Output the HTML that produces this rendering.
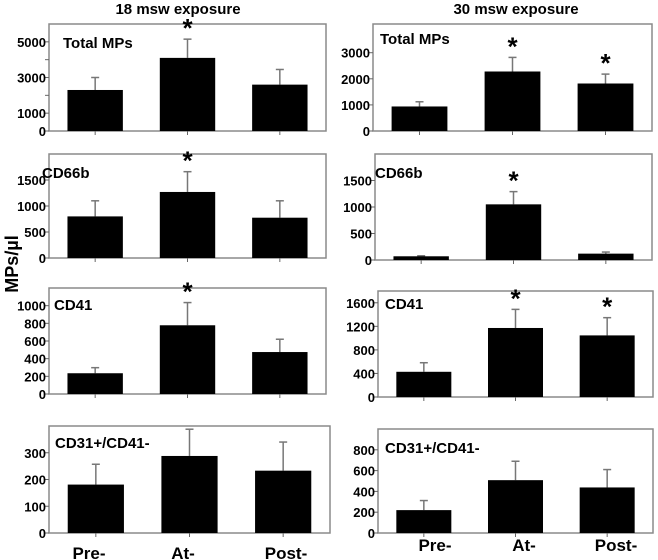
<!DOCTYPE html>
<html><head><meta charset="utf-8"><style>
html,body{margin:0;padding:0;background:#fff;}
svg{display:block;font-family:"Liberation Sans",Arial,sans-serif;font-weight:bold;}
</style></head><body>
<svg id="chart" width="658" height="560" viewBox="0 0 658 560">
<text x="178" y="14" font-size="15" text-anchor="middle">18 msw exposure</text>
<text x="516" y="14" font-size="15" text-anchor="middle">30 msw exposure</text>
<text transform="translate(18,264) rotate(-90)" font-size="18" text-anchor="middle">MPs/µl</text>
<g id="panels"></g>
</svg>
<script>
const categories = ["Pre-", "At-", "Post-"];
const panelNames = ["Total MPs", "CD66b", "CD41", "CD31+/CD41-"];
// 18 msw
const total18 = [2300, 4100, 2600];
const total18Err = [3000, 5150, 3450];
const total18Sig = [false, true, false];
const cd66b18 = [800, 1270, 775];
const cd66b18Err = [1100, 1660, 1100];
const cd66b18Sig = [false, true, false];
const cd4118 = [235, 778, 475];
const cd4118Err = [298, 1035, 620];
const cd4118Sig = [false, true, false];
const cd3118 = [181, 288, 233];
const cd3118Err = [257, 388, 340];
const cd3118Sig = [false, false, false];
// 30 msw
const total30 = [940, 2280, 1820];
const total30Err = [1120, 2820, 2180];
const total30Sig = [false, true, true];
const cd66b30 = [70, 1050, 120];
const cd66b30Err = [80, 1290, 150];
const cd66b30Sig = [false, true, false];
const cd4130 = [428, 1172, 1046];
const cd4130Err = [582, 1488, 1347];
const cd4130Sig = [false, true, true];
const cd3130 = [220, 508, 438];
const cd3130Err = [312, 690, 610];
const cd3130Sig = [false, false, false];
// ticks
const ticksTotal18 = [0, 1000, 3000, 5000];
const minorTotal18 = [2000, 4000];
const ticksCd66b18 = [0, 500, 1000, 1500];
const ticksCd4118 = [0, 200, 400, 600, 800, 1000];
const ticksCd3118 = [0, 100, 200, 300];
const ticksTotal30 = [0, 1000, 2000, 3000];
const ticksCd66b30 = [0, 500, 1000, 1500];
const ticksCd4130 = [0, 400, 800, 1200, 1600];
const ticksCd3130 = [0, 200, 400, 600, 800];

const NS = "http://www.w3.org/2000/svg";
const root = document.getElementById("panels");
function mk(tag, attrs, parent){const e=document.createElementNS(NS,tag);for(const k in attrs)e.setAttribute(k,attrs[k]);(parent||root).appendChild(e);return e;}

const panels = [
 {key:"total-18",label:0,vals:total18,err:total18Err,sig:total18Sig,ticks:ticksTotal18,minor:minorTotal18,ymax:6000,L:49,R:326,T:24,B:131,lx:63,ly:48},
 {key:"cd66b-18",label:1,vals:cd66b18,err:cd66b18Err,sig:cd66b18Sig,ticks:ticksCd66b18,minor:[],ymax:2000,L:49,R:326,T:154,B:258,lx:42,ly:178},
 {key:"cd41-18",label:2,vals:cd4118,err:cd4118Err,sig:cd4118Sig,ticks:ticksCd4118,minor:[],ymax:1200,L:49,R:326,T:288,B:394,lx:54,ly:310},
 {key:"cd31-18",label:3,vals:cd3118,err:cd3118Err,sig:cd3118Sig,ticks:ticksCd3118,minor:[],ymax:400,L:49,R:330,T:426,B:533,lx:55,ly:448},
 {key:"total-30",label:0,vals:total30,err:total30Err,sig:total30Sig,ticks:ticksTotal30,minor:[],ymax:4100,L:373,R:652,T:24,B:131,lx:380,ly:44},
 {key:"cd66b-30",label:1,vals:cd66b30,err:cd66b30Err,sig:cd66b30Sig,ticks:ticksCd66b30,minor:[],ymax:2000,L:375,R:652,T:154,B:260,lx:375,ly:178},
 {key:"cd41-30",label:2,vals:cd4130,err:cd4130Err,sig:cd4130Sig,ticks:ticksCd4130,minor:[],ymax:1800,L:378,R:653,T:291,B:397,lx:385,ly:309},
 {key:"cd31-30",label:3,vals:cd3130,err:cd3130Err,sig:cd3130Sig,ticks:ticksCd3130,minor:[],ymax:1000,L:378,R:653,T:429,B:533,lx:385,ly:453},
];

panels.forEach(p=>{
 const g = mk("g",{});
 
 
 const y = v => p.B - v/p.ymax*(p.B-p.T);
 const band = (p.R-p.L)/categories.length;
 const cx = i => p.L + band*(i+0.5);
 const bw = band*0.6;
 const frame = mk("rect",{x:p.L,y:p.T,width:p.R-p.L,height:p.B-p.T,fill:"none",stroke:"#8a8a8a","stroke-width":1.5},g);
 
 
 p.ticks.forEach(t=>{
  mk("line",{x1:p.L-4,x2:p.L,y1:y(t),y2:y(t),stroke:"#666","stroke-width":1},g);
  const tl = mk("text",{x:p.L-3,y:y(t)+5,"font-size":13,"text-anchor":"end"},g);
  tl.textContent = t;
  
  
 });
 p.minor.forEach(t=>{mk("line",{x1:p.L-4,x2:p.L,y1:y(t),y2:y(t),stroke:"#666","stroke-width":1},g);});
 const lab = mk("text",{x:p.lx,y:p.ly,"font-size":15},g);
 lab.textContent = panelNames[p.label];
 
 
 p.vals.forEach((v,i)=>{
  mk("line",{x1:cx(i),x2:cx(i),y1:p.B,y2:p.B+4,stroke:"#666","stroke-width":1},g);
  const e = p.err[i];
  const el = mk("line",{x1:cx(i),x2:cx(i),y1:y(e),y2:y(v),stroke:"#777","stroke-width":1.5},g);
  
  
  mk("line",{x1:cx(i)-4,x2:cx(i)+4,y1:y(e),y2:y(e),stroke:"#777","stroke-width":1.5},g);
  const b = mk("rect",{x:cx(i)-bw/2,y:y(v),width:bw,height:p.B-y(v),fill:"#000"},g);
  
  
  if(p.sig[i]){
   const s = mk("text",{x:cx(i),y:y(e)-2,"font-size":26,"text-anchor":"middle"},g);
   s.textContent = "*";
   
   
  }
 });
});
const catX18 = [89, 183, 286], catX30 = [435, 524, 616];
categories.forEach((c,i)=>{
 [[catX18[i],559],[catX30[i],551]].forEach(([x,yy])=>{
  const t = mk("text",{x:x,y:yy,"font-size":17,"text-anchor":"middle"});
  t.textContent = c;
  
  
 });
});
</script>
</body></html>
